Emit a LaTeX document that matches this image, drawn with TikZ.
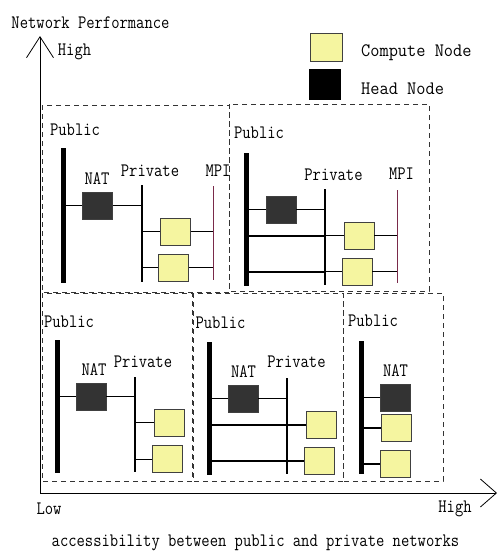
\documentclass[tikz,border=0pt]{standalone}
\usepackage{fontspec}
\usetikzlibrary{arrows.meta}
\definecolor{cyel}{HTML}{F5F5A0}
\definecolor{chead}{HTML}{333333}
\definecolor{mpic}{HTML}{7A2A4A}
\newcommand{\cnd}[1]{\scalebox{0.85}[1]{#1}}
\newcommand{\cndw}[1]{\scalebox{0.94}[1]{#1}}
\begin{document}
\begin{tikzpicture}[x=1pt,y=-1pt,
  lbl/.style={font=\ttfamily\fontsize{19}{19}\selectfont, inner sep=0pt},
  comp/.style={draw=black!75, fill=cyel, minimum width=30pt, minimum height=27pt, inner sep=0pt, line width=0.9pt},
  head/.style={draw=black!75, fill=chead, minimum width=30pt, minimum height=27pt, inner sep=0pt, line width=0.9pt},
  pubbar/.style={line width=5pt},
  privbar/.style={line width=1.5pt},
  mpibar/.style={draw=mpic, line width=1pt},
  link/.style={line width=0.9pt},
  tlink/.style={line width=2pt},
  panel/.style={dash pattern=on 5pt off 4pt, line width=0.7pt, draw=black!80}]
\useasboundingbox (0,0) rectangle (499,552);

% axes
\coordinate (o) at (40,493);
\coordinate (yt) at (40,36);
\coordinate (xt) at (497,493);
\draw[line width=0.8pt, -{Straight Barb[length=21pt,width=27pt,line width=0.8pt]}] (o) -- (yt);
\draw[line width=0.8pt, -{Straight Barb[length=16pt,width=28pt,line width=0.8pt]}] (o) -- (xt);
\node[lbl] (ylab) at (90.5,23) {\cnd{Network Performance}};
\node[lbl] (yhigh) at (74.5,52) {\cnd{High}};
\node[lbl] (xlow) at (49,509) {\cnd{Low}};
\node[lbl] (xhigh) at (455,509) {\cnd{High}};
\node[lbl] (cap) at (255.5,543) {\cnd{accessibility between public and private networks}};

% legend
\node[comp, minimum width=32pt, minimum height=28pt] (lc) at (326,47) {};
\node[draw=black, fill=black, minimum width=31pt, minimum height=30pt, inner sep=0pt] (lh) at (324.5,84) {};
\node[lbl, anchor=west] (lct) at (361,53) {\cndw{Compute Node}};
\node[lbl, anchor=west] (lht) at (361,89) {\cndw{Head Node}};

% panels
\draw[panel] (42,105) rectangle (229,292);
\draw[panel] (229,104) rectangle (429,291);
\draw[panel] (42,293) rectangle (192,481);
\draw[panel] (193,293) rectangle (343,481);
\draw[panel] (343,293) rectangle (443,481);

% ---- panel 1
\node[lbl] (pl1) at (75,130) {\cnd{Public}};
\coordinate (p1t) at (63.5,148); \coordinate (p1b) at (63.5,283);
\node[lbl] (nl1) at (97,179) {\cnd{NAT}};
\node[head] (n1) at (97.5,205.5) {};
\node[lbl] (vl1) at (150,171) {\cnd{Private}};
\coordinate (v1t) at (142,185); \coordinate (v1b) at (142,282);
\node[comp] (c11) at (175.5,231.5) {};
\node[comp] (c12) at (173.5,267.5) {};
\node[lbl] (ml1) at (218,171) {\cnd{MPI}};
\coordinate (m1t) at (213,186); \coordinate (m1b) at (213,280);
\draw[link] (n1.west) -- (n1.west -| p1t);
\draw[link] (n1.east) -- (n1.east -| v1t);
\draw[link] (c11.west) -- (c11.west -| v1t);
\draw[link] (c12.west) -- (c12.west -| v1t);
\draw[link] (c11.east) -- (c11.east -| m1t);
\draw[link] (c12.east) -- (c12.east -| m1t);
\draw[pubbar] (p1t) -- (p1b);
\draw[privbar] (v1t) -- (v1b);
\draw[mpibar] (m1t) -- (m1b);

% ---- panel 2
\node[lbl] (pl2) at (259,133) {\cnd{Public}};
\coordinate (p2t) at (246.5,153); \coordinate (p2b) at (246.5,286);
\node[head] (n2) at (281,209.5) {};
\node[lbl] (vl2) at (333.5,175) {\cnd{Private}};
\coordinate (v2t) at (325,189); \coordinate (v2b) at (325,285);
\node[comp] (c21) at (359,235.5) {};
\node[comp] (c22) at (357,271.5) {};
\node[lbl] (ml2) at (401.5,174) {\cnd{MPI}};
\coordinate (m2t) at (397,190); \coordinate (m2b) at (397,283);
\draw[link] (n2.west) -- (n2.west -| p2t);
\draw[link] (n2.east) -- (n2.east -| v2t);
\draw[tlink] (c21.west -| p2t) -- (c21.west -| v2t);
\draw[tlink] (c22.west -| p2t) -- (c22.west -| v2t);
\draw[link] (c21.west) -- (c21.west -| v2t);
\draw[link] (c22.west) -- (c22.west -| v2t);
\draw[link] (c21.east) -- (c21.east -| m2t);
\draw[link] (c22.east) -- (c22.east -| m2t);
\draw[pubbar] (p2t) -- (p2b);
\draw[privbar, line width=2.5pt] (v2t) -- (v2b);
\draw[mpibar] (m2t) -- (m2b);

% ---- panel 3
\node[lbl] (pl3) at (69,322) {\cnd{Public}};
\coordinate (p3t) at (57,340); \coordinate (p3b) at (57,473);
\node[lbl] (nl3) at (94,370) {\cnd{NAT}};
\node[head] (n3) at (91,396.5) {};
\node[lbl] (vl3) at (143,362) {\cnd{Private}};
\coordinate (v3t) at (135,377); \coordinate (v3b) at (135,472);
\node[comp] (c31) at (169,422.5) {};
\node[comp] (c32) at (167,459) {};
\draw[link] (n3.west) -- (n3.west -| p3t);
\draw[link] (n3.east) -- (n3.east -| v3t);
\draw[link] (c31.west) -- (c31.west -| v3t);
\draw[link] (c32.west) -- (c32.west -| v3t);
\draw[pubbar] (p3t) -- (p3b);
\draw[privbar] (v3t) -- (v3b);

% ---- panel 4
\node[lbl] (pl4) at (220.5,323) {\cnd{Public}};
\coordinate (p4t) at (209.5,342); \coordinate (p4b) at (209.5,475);
\node[lbl] (nl4) at (243.5,372) {\cnd{NAT}};
\node[head] (n4) at (243,398.5) {};
\node[lbl] (vl4) at (296.5,362) {\cnd{Private}};
\coordinate (v4t) at (287,378); \coordinate (v4b) at (287,474);
\node[comp] (c41) at (321.5,424.5) {};
\node[comp] (c42) at (319.5,460.5) {};
\draw[link] (n4.west) -- (n4.west -| p4t);
\draw[link] (n4.east) -- (n4.east -| v4t);
\draw[tlink] (c41.west) -- (c41.west -| p4t);
\draw[tlink] (c42.west) -- (c42.west -| p4t);
\draw[pubbar] (p4t) -- (p4b);
\draw[privbar] (v4t) -- (v4b);

% ---- panel 5
\node[lbl] (pl5) at (373,321) {\cnd{Public}};
\coordinate (p5t) at (361.5,341); \coordinate (p5b) at (361.5,474);
\node[lbl] (nl5) at (395.5,371) {\cnd{NAT}};
\node[head] (n5) at (395.5,397.5) {};
\node[comp] (c51) at (396.5,428) {};
\node[comp] (c52) at (395,464) {};
\draw[link] (n5.west) -- (n5.west -| p5t);
\draw[tlink] (c51.west) -- (c51.west -| p5t);
\draw[tlink] (c52.west) -- (c52.west -| p5t);
\draw[pubbar] (p5t) -- (p5b);
\end{tikzpicture}
\end{document}
